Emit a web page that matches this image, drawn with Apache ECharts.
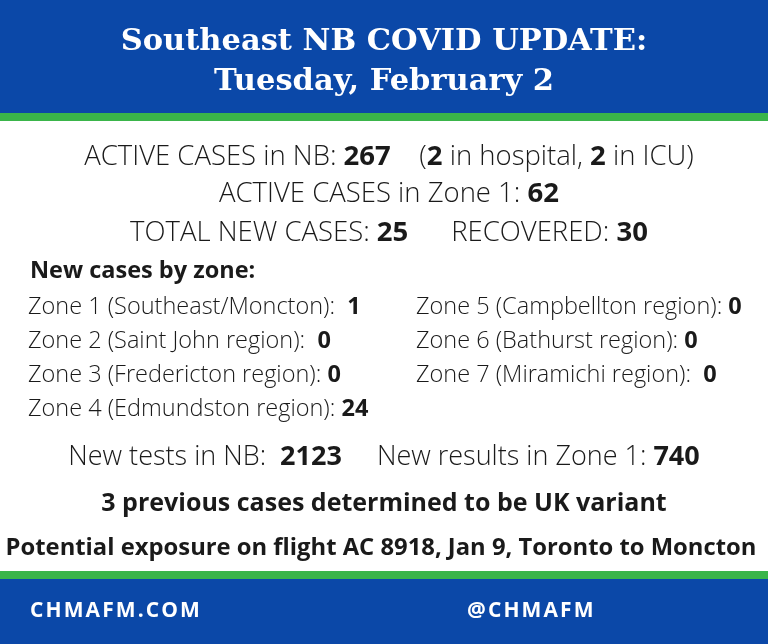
<!DOCTYPE html>
<html><head><meta charset="utf-8">
<script src="https://cdn.jsdelivr.net/npm/echarts@6/dist/echarts.min.js"></script>
<style>html,body{margin:0;padding:0;background:#fff}#c{width:768px;height:644px}</style>
</head><body><div id="c"></div>
<script>
var titleLines = ['Southeast NB COVID UPDATE:', 'Tuesday, February 2'];
var activeNB = 267, hospital = 2, icu = 2, activeZone1 = 62, totalNew = 25, recovered = 30;
var zoneLabels = ['Zone 1 (Southeast/Moncton):  ', 'Zone 2 (Saint John region):  ', 'Zone 3 (Fredericton region): ', 'Zone 4 (Edmundston region): ',
                  'Zone 5 (Campbellton region): ', 'Zone 6 (Bathurst region): ', 'Zone 7 (Miramichi region):  '];
var zoneCases = [1, 0, 0, 24, 0, 0, 0];
var newTests = 2123, newResultsZone1 = 740;
var notes = ['3 previous cases determined to be UK variant', 'Potential exposure on flight AC 8918, Jan 9, Toronto to Moncton'];
var footer = ['CHMAFM.COM', '@CHMAFM'];

var BLUE = '#0b48a8', GREEN = '#3ab54a', TXT = '#1a1a1a', F = '"Open Sans", sans-serif';
var chart = echarts.init(document.getElementById('c'));
function rt(x, y, parts, size, align) {
  return { type: 'text', x: x, y: y, style: {
    text: parts.map(function(p){ return '{' + (p[1] ? 'b' : 'n') + '|' + p[0] + '}'; }).join(''),
    align: align || 'center', verticalAlign: 'middle',
    rich: { n: { fontFamily: F, fontSize: size, fontWeight: 300, fill: TXT },
            b: { fontFamily: F, fontSize: size, fontWeight: 'bold', fill: TXT } } } };
}
var g = [
  { type: 'rect', shape: { x: 0, y: 0, width: 768, height: 113 }, style: { fill: BLUE } },
  { type: 'rect', shape: { x: 0, y: 113, width: 768, height: 8 }, style: { fill: GREEN } },
  { type: 'rect', shape: { x: 0, y: 571, width: 768, height: 8 }, style: { fill: GREEN } },
  { type: 'rect', shape: { x: 0, y: 579, width: 768, height: 65 }, style: { fill: BLUE } }
];
titleLines.forEach(function(t, i){
  g.push({ type: 'text', x: 384, y: 42 + i * 40, style: { text: t, align: 'center', verticalAlign: 'middle',
    fontFamily: '"DejaVu Serif", serif', fontWeight: 'bold', fontSize: 30.5, fill: '#fff' } });
});
g.push(rt(389, 157, [['ACTIVE CASES in NB: '], [String(activeNB), 1], ['    ('], [String(hospital), 1], [' in hospital, '], [String(icu), 1], [' in ICU)']], 27.5));
g.push(rt(389, 194, [['ACTIVE CASES in Zone 1: '], [String(activeZone1), 1]], 27.5));
g.push(rt(389, 233, [['TOTAL NEW CASES: '], [String(totalNew), 1], ['      RECOVERED: '], [String(recovered), 1]], 27.5));
g.push(rt(30, 271, [['New cases by zone:', 1]], 23.5, 'left'));
zoneLabels.forEach(function(l, i){
  var col = i < 4 ? 0 : 1, row = i < 4 ? i : i - 4;
  g.push(rt(col ? 416 : 28, 307 + row * 34, [[l], [String(zoneCases[i]), 1]], 23.5, 'left'));
});
g.push(rt(384, 457, [['New tests in NB:  '], [String(newTests), 1], ['     New results in Zone 1: '], [String(newResultsZone1), 1]], 27));
g.push(rt(384, 504, [[notes[0], 1]], 25));
g.push(rt(381, 548, [[notes[1], 1]], 23.8));
g.push({ type: 'text', x: 30, y: 611, style: { text: footer[0].split('').join('\u200A'), verticalAlign: 'middle', fontFamily: F, fontWeight: 'bold', fontSize: 21, fill: '#fff' } });
g.push({ type: 'text', x: 467, y: 611, style: { text: footer[1].split('').join('\u200A'), verticalAlign: 'middle', fontFamily: F, fontWeight: 'bold', fontSize: 21, fill: '#fff' } });
chart.setOption({ graphic: g });
</script></body></html>
